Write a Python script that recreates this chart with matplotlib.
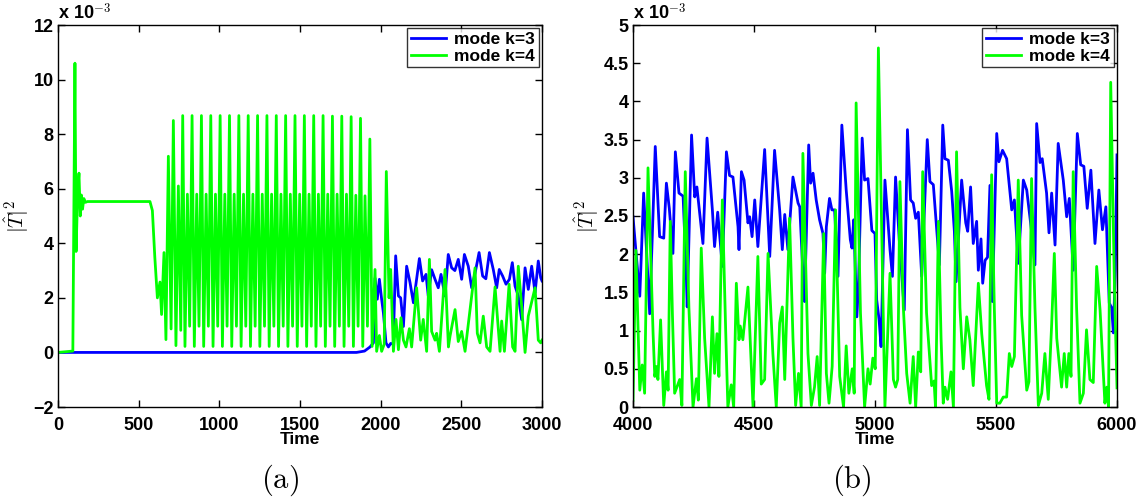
import numpy as np
import matplotlib
matplotlib.use("Agg")
import matplotlib.pyplot as plt
from matplotlib.ticker import FuncFormatter

plt.rcParams['font.family'] = ['Liberation Sans', 'DejaVu Sans']
plt.rcParams['mathtext.fontset'] = 'cm'

# |T|^2 values in units of 1e-3, (time, value) pairs
# panel (a), mode k=3
a_k3 = [(0, 0), (1850, 0.0), (1900, 0.05), (1934, 0.2), (1955, 0.35), (1965, 2.72), (1979, 1.95),
        (1992, 2.68), (2006, 1.95), (2017, 1.45), (2033, 0.35), (2048, 0.2), (2062, 0.33), (2078, 0.3),
        (2093, 3.54), (2110, 2.07), (2124, 2.0), (2141, 0.95), (2161, 3.16), (2182, 2.56), (2203, 1.82),
        (2240, 3.44), (2260, 2.62), (2281, 2.86), (2295, 2.07), (2316, 3.03), (2337, 2.68), (2357, 2.37),
        (2374, 2.86), (2399, 2.07), (2419, 3.59), (2440, 3.1), (2460, 3.0), (2481, 3.41), (2502, 2.68),
        (2519, 3.59), (2543, 3.16), (2564, 2.37), (2585, 2.9), (2610, 3.66), (2632, 2.8), (2652, 2.7),
        (2674, 3.66), (2698, 3.04), (2719, 2.37), (2735, 3.04), (2756, 2.8), (2777, 2.5), (2798, 2.68),
        (2816, 3.29), (2833, 2.43), (2853, 2.07), (2874, 1.2), (2895, 3.1), (2915, 2.31), (2936, 3.16),
        (2957, 2.19), (2977, 3.35), (2992, 2.74), (3000, 2.62)]

# panel (a), mode k=4
a_k4 = [(0, 0), (92, 0.05), (105, 10.6), (112, 3.7), (122, 5.9), (130, 6.57), (138, 5.0), (145, 5.77),
        (152, 5.25), (160, 5.64), (170, 5.5), (182, 5.53), (570, 5.53), (585, 5.2), (600, 3.5), (616, 2.0),
        (632, 2.58), (642, 1.39), (657, 3.66), (669, 0.47), (684, 7.19), (701, 0.86), (715, 8.5),
        (731, 0.25), (746, 6.1), (761, 0.81),
        (773, 8.68), (787, 0.22), (802, 5.8), (816, 0.96), (831, 8.68), (845, 0.22), (860, 5.8), (874, 0.96),
        (889, 8.68), (903, 0.22), (918, 5.8), (932, 0.96), (947, 8.68), (961, 0.22), (976, 5.8), (990, 0.96),
        (1005, 8.68), (1019, 0.22), (1034, 5.8), (1048, 0.96), (1063, 8.68), (1077, 0.22), (1092, 5.8),
        (1106, 0.96), (1121, 8.68), (1135, 0.22), (1150, 5.8), (1164, 0.96), (1179, 8.68), (1193, 0.22),
        (1208, 5.8), (1222, 0.96), (1237, 8.68), (1251, 0.22), (1266, 5.8), (1280, 0.96), (1295, 8.68),
        (1309, 0.22), (1324, 5.8), (1338, 0.96), (1353, 8.68), (1367, 0.22), (1382, 5.8), (1396, 0.96),
        (1411, 8.68), (1425, 0.22), (1440, 5.8), (1454, 0.96), (1469, 8.68), (1483, 0.22), (1498, 5.8),
        (1512, 0.96), (1527, 8.68), (1541, 0.22), (1556, 5.8), (1570, 0.96), (1585, 8.68), (1599, 0.22),
        (1614, 5.8), (1628, 0.96), (1643, 8.68), (1657, 0.22), (1672, 5.8), (1686, 0.96), (1701, 8.66),
        (1715, 0.22), (1730, 5.8), (1744, 0.96), (1759, 8.66), (1773, 0.22), (1788, 5.8), (1802, 0.96),
        (1817, 8.64), (1831, 0.22), (1846, 5.76), (1860, 0.96), (1875, 8.58), (1889, 0.22), (1903, 5.74),
        (1918, 0.96), (1933, 7.82), (1947, 0.22), (1965, 3.04), (1975, 0.04), (1992, 0.62), (2006, 0.04),
        (2022, 0.3), (2035, 6.63), (2052, 2.0), (2062, 3.04), (2079, 0.04), (2095, 1.21), (2110, 0.1),
        (2126, 1.27), (2141, 0.45), (2157, 0.2), (2178, 0.87), (2192, 0.2), (2223, 2.37), (2248, 0.45),
        (2264, 1.21), (2285, 0.04), (2302, 3.41), (2316, 0.77), (2337, 0.45), (2347, 0.7), (2364, 0.04),
        (2399, 3.04), (2420, 0.2), (2430, 0.6), (2461, 1.57), (2481, 0.4), (2502, 0.77), (2523, 0.04),
        (2585, 3.1), (2599, 0.7), (2616, 0.35), (2636, 1.33), (2657, 0.2), (2678, 0.04), (2709, 2.4),
        (2740, 0.04), (2750, 1.15), (2767, 0.04), (2796, 2.5), (2818, 0.2), (2833, 0.04), (2853, 3.16),
        (2874, 1.69), (2895, 0.0), (2915, 1.33), (2957, 2.37), (2977, 0.45), (2992, 0.35), (3000, 0.45)]

# panel (b), mode k=3
b_k3 = [(4000, 2.49), (4028, 1.45), (4044, 2.80), (4069, 1.22), (4092, 3.41), (4110, 2.23), (4127, 2.21),
        (4138, 2.93), (4150, 2.6), (4165, 2.01), (4175, 3.34), (4190, 2.80), (4207, 2.76), (4220, 1.75),
        (4224, 1.31), (4242, 3.56), (4255, 2.75), (4264, 2.88), (4289, 2.14), (4306, 3.52), (4328, 2.58),
        (4337, 2.10), (4350, 2.55), (4369, 1.84), (4386, 3.34), (4399, 3.03), (4413, 3.01), (4434, 2.36),
        (4438, 2.06), (4448, 3.08), (4459, 2.97), (4475, 2.41), (4482, 2.49), (4492, 2.23), (4503, 2.71),
        (4516, 2.10), (4544, 3.37), (4565, 1.97), (4585, 3.36), (4606, 2.58), (4617, 2.06), (4627, 2.52),
        (4640, 2.06), (4661, 3.01), (4682, 2.67), (4689, 2.62), (4705, 1.57), (4709, 1.38), (4726, 3.43),
        (4734, 2.93), (4744, 3.06), (4757, 2.71), (4771, 2.45), (4785, 2.27), (4792, 1.75), (4799, 2.36),
        (4812, 2.73), (4822, 2.58), (4833, 2.58), (4847, 1.71), (4863, 3.69), (4881, 2.84), (4898, 2.19),
        (4905, 2.08), (4912, 2.45), (4925, 1.18), (4932, 1.62), (4947, 3.52), (4957, 2.97), (4971, 2.99),
        (4987, 2.31), (5000, 2.27), (5007, 1.40), (5017, 1.14), (5025, 0.79), (5041, 2.97), (5050, 2.58),
        (5062, 2.06), (5072, 1.71), (5085, 3.01), (5100, 2.2), (5121, 1.27), (5134, 3.63), (5147, 2.71),
        (5158, 2.67), (5168, 2.47), (5179, 2.55), (5193, 1.71), (5216, 3.50), (5227, 2.95), (5241, 2.91),
        (5266, 1.86), (5280, 3.69), (5289, 3.25), (5303, 3.23), (5317, 2.82), (5328, 2.3), (5335, 1.64),
        (5358, 2.97), (5375, 2.41), (5383, 2.30), (5395, 2.88), (5406, 2.14), (5420, 2.43), (5427, 1.79),
        (5438, 2.2), (5445, 1.62), (5455, 1.92), (5465, 1.96), (5475, 2.90), (5485, 1.38), (5503, 3.58),
        (5512, 3.21), (5527, 3.36), (5544, 3.25), (5565, 2.58), (5576, 2.71), (5592, 1.88), (5613, 2.97),
        (5627, 2.84), (5647, 2.3), (5661, 1.86), (5668, 3.71), (5682, 3.2), (5691, 3.25), (5709, 2.80),
        (5719, 2.28), (5730, 2.80), (5744, 2.12), (5757, 3.45), (5778, 2.97), (5792, 2.49), (5803, 2.73),
        (5819, 1.79), (5836, 3.58), (5850, 3.17), (5863, 3.15), (5877, 2.6), (5892, 3.10), (5909, 2.14),
        (5925, 2.84), (5940, 2.32), (5954, 2.62), (5968, 1.36), (5978, 1.3), (5985, 0.97), (5993, 1.8),
        (6000, 3.3)]

# panel (b), mode k=4
b_k4 = [(4000, 0.09), (4012, 2.05), (4028, 0.22), (4038, 0.55), (4048, 0.18), (4062, 3.13), (4083, 0.96),
        (4090, 0.40), (4097, 0.53), (4103, 0.36), (4114, 1.14), (4127, 0.02), (4138, 0.46), (4145, 0.22),
        (4154, 2.43), (4163, 1.2), (4172, 0.18), (4193, 0.36), (4202, 0.02), (4216, 3.08), (4231, 1.3),
        (4248, 0.0), (4262, 0.37), (4270, 0.09), (4282, 2.08), (4296, 0.9), (4314, 0.0), (4328, 1.18),
        (4337, 0.44), (4347, 0.96), (4355, 0.40), (4369, 2.71), (4383, 1.0), (4392, 0.0), (4406, 0.29),
        (4416, 0.0), (4427, 1.62), (4438, 0.88), (4443, 1.06), (4454, 0.88), (4475, 1.57), (4496, 0.0),
        (4507, 1.06), (4516, 1.97), (4530, 0.3), (4544, 0.36), (4558, 2.01), (4578, 0.7), (4592, 0.0),
        (4606, 1.10), (4617, 1.31), (4627, 0.36), (4647, 2.47), (4661, 0.9), (4672, 0.02), (4684, 0.44),
        (4695, 0.0), (4702, 3.32), (4723, 0.70), (4737, 0.02), (4750, 0.26), (4761, 0.66), (4771, 0.02),
        (4788, 2.27), (4799, 0.44), (4810, 0.05), (4823, 0.53), (4837, 2.58), (4854, 0.40), (4870, 0.0),
        (4881, 0.80), (4892, 0.18), (4906, 0.50), (4914, 0.18), (4922, 3.98), (4940, 1.23), (4957, 0.0),
        (4971, 0.50), (4980, 0.3), (4991, 0.64), (5001, 0.5), (5014, 4.70), (5041, 0.0), (5062, 1.75),
        (5076, 0.36), (5085, 0.26), (5094, 0.36), (5103, 2.95), (5117, 1.31), (5131, 0.44), (5145, 0.05),
        (5158, 0.66), (5168, 0.0), (5179, 0.72), (5189, 0.46), (5197, 3.08), (5213, 1.23), (5234, 0.28),
        (5244, 0.34), (5250, 0.0), (5262, 2.43), (5273, 0.9), (5282, 0.05), (5289, 0.26), (5300, 0.1),
        (5314, 0.46), (5324, 0.0), (5337, 3.34), (5351, 1.3), (5365, 0.5), (5379, 1.18), (5392, 0.88),
        (5406, 0.28), (5427, 1.62), (5441, 0.96), (5461, 0.28), (5471, 0.1), (5482, 3.04), (5493, 1.3),
        (5503, 0.05), (5516, 0.05), (5530, 0.13), (5544, 0.13), (5555, 0.70), (5565, 0.53), (5576, 0.66),
        (5592, 2.97), (5606, 1.2), (5627, 0.22), (5636, 0.33), (5647, 2.99), (5661, 1.3), (5675, 0.02),
        (5689, 0.18), (5702, 0.70), (5716, 0.1), (5730, 1.08), (5741, 2.01), (5751, 0.9), (5771, 0.26),
        (5782, 0.70), (5792, 0.26), (5801, 0.70), (5810, 0.4), (5819, 3.08), (5833, 1.3), (5847, 0.05),
        (5861, 0.18), (5874, 1.01), (5888, 0.36), (5902, 0.32), (5916, 1.84), (5930, 1.27), (5950, 0.05),
        (5958, 0.26), (5965, 0.0), (5974, 4.25), (5990, 1.5), (6000, 0.25)]

labels = ['mode k=3', 'mode k=4']
colors = ['#0000ff', '#00ff00']

fig = plt.figure(figsize=(11.41, 5.01), dpi=100)
ax_a = fig.add_axes([58 / 1141, 94 / 501, 484 / 1141, 382 / 501])
ax_b = fig.add_axes([633 / 1141, 94 / 501, 484 / 1141, 382 / 501])

panels = [
    (ax_a, a_k3, a_k4, (0, 3000), (-2, 12), np.arange(0, 3001, 500), np.arange(-2, 12.1, 2)),
    (ax_b, b_k3, b_k4, (4000, 6000), (0, 5), np.arange(4000, 6001, 500), np.arange(0, 5.01, 0.5)),
]

fmt = FuncFormatter(lambda v, p: ('%g' % v).replace('-', '\u2212'))

for ax, k3, k4, xl, yl, xt, yt in panels:
    t3, v3 = np.array(k3).T
    t4, v4 = np.array(k4).T
    ax.plot(t3, v3, color=colors[0], lw=2, label=labels[0])
    ax.plot(t4, v4, color=colors[1], lw=2, label=labels[1])
    ax.set_xlim(*xl)
    ax.set_ylim(*yl)
    ax.set_xticks(xt)
    ax.set_yticks(yt)
    ax.xaxis.set_major_formatter(fmt)
    ax.yaxis.set_major_formatter(fmt)
    ax.tick_params(direction='in', top=True, right=True, length=5, width=1, labelsize=13)
    ax.tick_params(axis='x', pad=7)
    ax.tick_params(axis='y', pad=3)
    for lab in ax.get_xticklabels() + ax.get_yticklabels():
        lab.set_fontweight('bold')
    for s in ax.spines.values():
        s.set_linewidth(1)
    ax.set_xlabel('Time', fontsize=12.5, fontweight='bold', labelpad=-1)
    ax.set_ylabel(r'$|\hat{T}|^2$', fontsize=15, labelpad=2)
    ax.text(0.0, 1.005, r'x 10$^{\mathbf{-3}}$', transform=ax.transAxes, fontsize=13,
            fontweight='bold', ha='left', va='bottom')
    leg = ax.legend(loc='upper right', prop={'weight': 'bold', 'size': 12.5},
                    frameon=True, fancybox=False, borderpad=0.2, labelspacing=0.1,
                    handlelength=2.0, handletextpad=0.5, borderaxespad=0.2)
    leg.get_frame().set_edgecolor('black')
    leg.get_frame().set_linewidth(1)

fig.text(280 / 1141, 1 - 480 / 501, r'$\mathrm{(a)}$', fontsize=22, ha='center', va='center')
fig.text(852 / 1141, 1 - 480 / 501, r'$\mathrm{(b)}$', fontsize=22, ha='center', va='center')

fig.savefig('out.png', dpi=100)
